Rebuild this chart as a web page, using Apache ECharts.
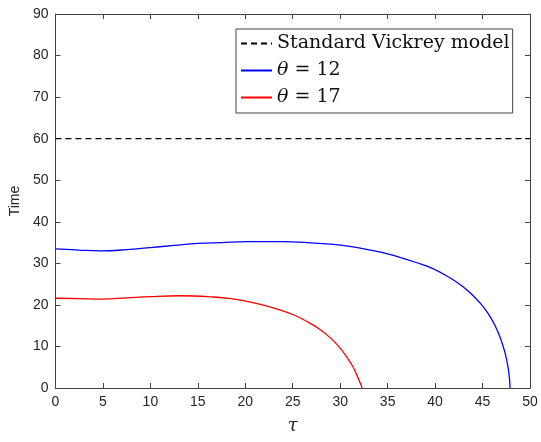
<!DOCTYPE html>
<html>
<head>
<meta charset="utf-8">
<script src="https://cdn.jsdelivr.net/npm/echarts@6/dist/echarts.min.js"></script>
<style>html,body{margin:0;padding:0;background:#fff}#c{width:541px;height:442px}</style>
</head>
<body>
<div id="c"></div>
<script>
// Data
const vickreyTau = [0, 50];
const vickreyTime = [60, 60];

const theta12Tau  = [0, 2.5, 4.7, 7.5, 10, 12.5, 15, 17.5, 20.3, 23.8, 26.5, 29, 31, 32.5, 34.5, 36.2, 38, 39.7, 41.2, 42.7, 43.8, 44.8, 45.6, 46.3, 46.9, 47.4, 47.7, 47.85, 47.9];
const theta12Time = [33.5, 33.2, 33.0, 33.3, 33.8, 34.3, 34.8, 35.0, 35.2, 35.2, 35.0, 34.6, 34.1, 33.5, 32.6, 31.5, 30.2, 28.8, 27.0, 24.8, 22.7, 20.3, 17.9, 15.1, 11.9, 8.2, 4.8, 2.0, 0];

const theta17Tau  = [0, 2.5, 5, 7.5, 10, 13, 16.7, 18.5, 20.3, 22, 23.8, 25.2, 26.5, 27.8, 29, 30, 30.7, 31.3, 31.7, 32.0, 32.2, 32.3];
const theta17Time = [21.6, 21.5, 21.4, 21.7, 22.0, 22.2, 21.9, 21.5, 20.8, 19.9, 18.7, 17.5, 16.0, 14.2, 12.0, 9.6, 7.4, 5.3, 3.4, 1.8, 0.7, 0];

const xTicks = [0, 5, 10, 15, 20, 25, 30, 35, 40, 45, 50];
const yTicks = [0, 10, 20, 30, 40, 50, 60, 70, 80, 90];

const names = ['Standard Vickrey model', 'θ = 12', 'θ = 17'];

function zip(a, b) { return a.map((v, i) => [v, b[i]]); }

const axisColor = '#262626';
const chart = echarts.init(document.getElementById('c'), null, {renderer: 'canvas'});

const baseX = {
  type: 'value', min: xTicks[0], max: xTicks[xTicks.length - 1], interval: 5,
  axisLine: {show: true, onZero: false, lineStyle: {color: '#444', width: 1}},
  axisTick: {show: true, inside: true, length: 5, lineStyle: {color: '#444'}},
  splitLine: {show: false}
};
const baseY = {
  type: 'value', min: yTicks[0], max: yTicks[yTicks.length - 1], interval: 10,
  axisLine: {show: true, onZero: false, lineStyle: {color: '#444', width: 1}},
  axisTick: {show: true, inside: true, length: 5, lineStyle: {color: '#444'}},
  splitLine: {show: false}
};

chart.setOption({
  animation: false,
  backgroundColor: '#fff',
  grid: {left: 50, right: 11, top: 14, bottom: 54, containLabel: false},
  xAxis: [
    Object.assign({}, baseX, {
      position: 'bottom',
      axisLabel: {color: axisColor, fontFamily: 'Liberation Sans, Arial', fontSize: 14, margin: 7},
      name: 'τ', nameLocation: 'middle', nameGap: 29,
      nameTextStyle: {fontFamily: 'DejaVu Serif', fontStyle: 'italic', fontSize: 18, color: axisColor}
    }),
    Object.assign({}, baseX, {position: 'top', axisLabel: {show: false}})
  ],
  yAxis: [
    Object.assign({}, baseY, {
      position: 'left',
      axisLabel: {color: axisColor, fontFamily: 'Liberation Sans, Arial', fontSize: 14, margin: 7},
      name: 'Time', nameLocation: 'middle', nameGap: 30,
      nameTextStyle: {fontFamily: 'Liberation Sans, Arial', fontSize: 14, color: axisColor}
    }),
    Object.assign({}, baseY, {position: 'right', axisLabel: {show: false}})
  ],
  legend: {
    show: true,
    orient: 'vertical',
    left: 236, top: 29,
    padding: [5, 3, 6, 4],
    itemGap: 8,
    itemWidth: 31, itemHeight: 14,
    backgroundColor: '#fff',
    borderColor: '#444',
    borderWidth: 1,
    borderRadius: 0,
    itemStyle: {opacity: 0},
    data: names,
    formatter: function (n) {
      if (n.indexOf('θ') === 0) return '{i|θ}{r|' + n.slice(1) + '}';
      return '{r|' + n + '}';
    },
    textStyle: {
      rich: {
        i: {fontFamily: 'DejaVu Serif', fontStyle: 'italic', fontSize: 19, color: '#111'},
        r: {fontFamily: 'DejaVu Serif', fontSize: 19, color: '#111'}
      }
    }
  },
  series: [
    {
      name: names[0], type: 'line', data: zip(vickreyTau, vickreyTime),
      symbol: 'none', lineStyle: {color: '#000', width: 1.3, type: [6, 4]}, itemStyle: {color: '#000'}
    },
    {
      name: names[1], type: 'line', data: zip(theta12Tau, theta12Time),
      symbol: 'none', smooth: 0.4, lineStyle: {color: '#0000ff', width: 1.3}, itemStyle: {color: '#0000ff'}
    },
    {
      name: names[2], type: 'line', data: zip(theta17Tau, theta17Time),
      symbol: 'none', smooth: 0.4, lineStyle: {color: '#ff0000', width: 1.3}, itemStyle: {color: '#ff0000'}
    }
  ]
});
</script>
</body>
</html>
